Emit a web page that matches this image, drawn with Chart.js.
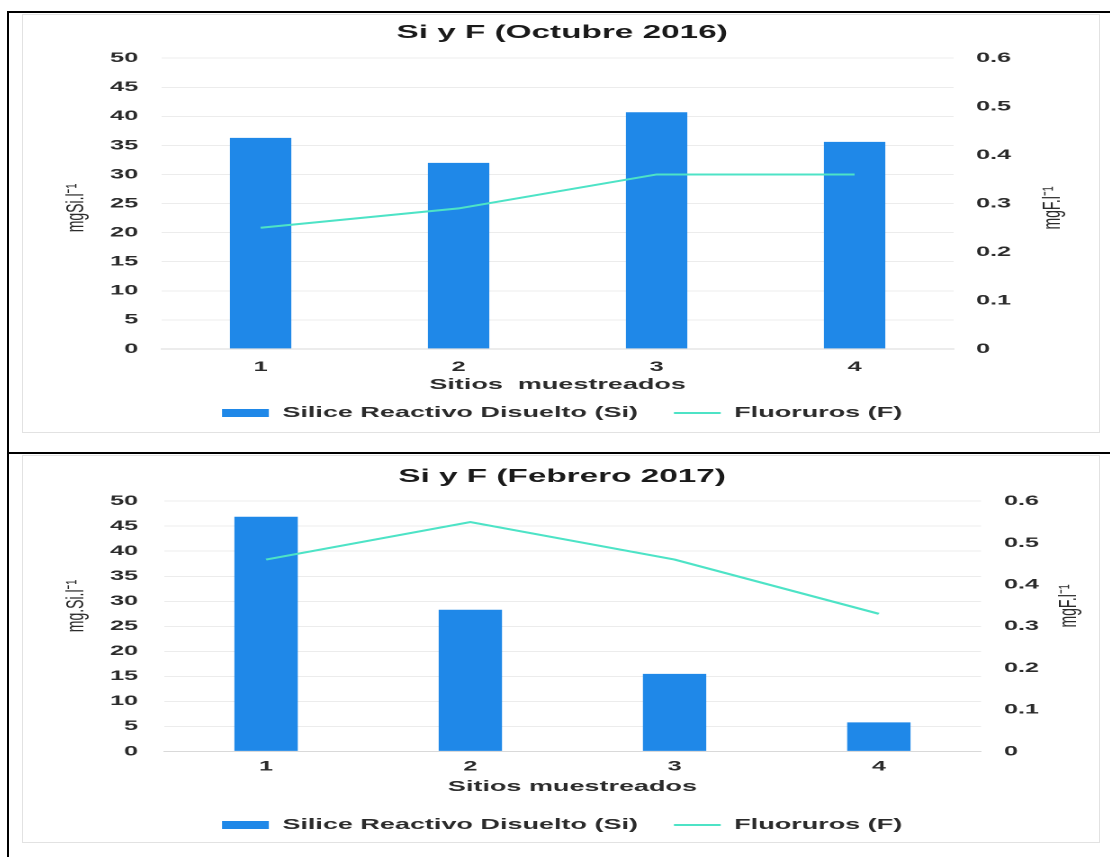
<!DOCTYPE html>
<html>
<head>
<meta charset="utf-8">
<script src="https://cdn.jsdelivr.net/npm/chart.js@4.4.1/dist/chart.umd.min.js"></script>
<style>
    body {
        margin: 0;
        width: 1110px;
        height: 857px;
        background: #fff;
        position: relative;
        overflow: hidden;
        font-family: "Liberation Sans", Arial, sans-serif;
    }
    .rule { position: absolute; background: #000; }
    .panel {
        position: absolute;
        left: 22px;
        width: 1078px;
        box-sizing: border-box;
        border: 1px solid #e2e2e2;
        overflow: hidden;
    }
    /* the source picture is stretched sideways, so the chart is too */
    .stretch {
        position: absolute;
        left: 0;
        top: 0;
        transform: scaleX(1.8);
        transform-origin: 0 0;
    }
</style>
</head>
<body>

<div class="rule" style="left:7px;top:11px;width:2px;height:846px"></div>
<div class="rule" style="left:7px;top:11px;width:1103px;height:2px"></div>
<div class="rule" style="left:7px;top:452px;width:1103px;height:2px"></div>

<div class="panel" style="top:14px;height:419px">
    <div class="stretch"><canvas id="chartOct" width="599" height="419"></canvas></div>
</div>

<div class="panel" style="top:455px;height:388px">
    <div class="stretch"><canvas id="chartFeb" width="599" height="388"></canvas></div>
</div>

<script>

// Data

const sitios = ["1", "2", "3", "4"];

const siOct2016 = [36.3, 32.0, 40.7, 35.6];
const fOct2016 = [0.25, 0.29, 0.36, 0.36];

const siFeb2017 = [46.9, 28.3, 15.5, 5.8];
const fFeb2017 = [0.46, 0.55, 0.46, 0.33];

const siAxisMax = 50;
const siAxisStep = 5;
const fAxisMax = 0.6;
const fAxisStep = 0.1;

const serieSi = "Silice Reactivo Disuelto (Si)";
const serieF = "Fluoruros (F)";


const FONT = "'Liberation Sans', Arial, sans-serif";
const TEXT = "#2b2b2b";


// Rotated y axis titles (both read bottom to top)

const axisTitles = {

    id: "axisTitles",

    afterDraw(chart, args, opts) {

        const ctx = chart.ctx;

        ctx.save();
        ctx.font = "14px " + FONT;
        ctx.fillStyle = TEXT;
        ctx.textAlign = "center";
        ctx.textBaseline = "middle";

        [[opts.leftX, opts.leftText], [opts.rightX, opts.rightText]].forEach(([x, text]) => {
            ctx.save();
            ctx.translate(x, opts.y);
            ctx.rotate(-Math.PI / 2);
            ctx.fillText(text, 0, 0);
            ctx.restore();
        });

        ctx.restore();
    }
};


function makeChart(id, cfg) {

    const ctx = document.getElementById(id).getContext("2d");

    return new Chart(ctx, {

        type: "bar",

        data: {
            labels: sitios,
            datasets: [{
                label: serieSi,
                data: cfg.si,
                backgroundColor: "#1f88e8",
                borderWidth: 0,
                barPercentage: 0.31,
                categoryPercentage: 1,
                yAxisID: "y",
                order: 1,
                pointStyle: "rect"
            }, {
                type: "line",
                label: serieF,
                data: cfg.f,
                borderColor: "#4de3c6",
                backgroundColor: "#4de3c6",
                borderWidth: 2,
                pointRadius: 0,
                tension: 0,
                yAxisID: "y1",
                order: 0,
                pointStyle: "line"
            }]
        },

        options: {

            responsive: false,
            animation: false,
            devicePixelRatio: 2,

            layout: {
                padding: { left: 0, right: 0, top: 0, bottom: cfg.padBottom }
            },

            scales: {

                x: {
                    grid: { display: false, drawTicks: false },
                    border: { color: "#d9d9d9" },
                    ticks: {
                        padding: cfg.xTickPad,
                        color: TEXT,
                        font: { family: FONT, size: 14, weight: "bold" }
                    },
                    title: {
                        display: true,
                        text: cfg.xTitle,
                        color: TEXT,
                        padding: { top: cfg.xTitlePadTop, bottom: cfg.xTitlePadBottom },
                        font: { family: FONT, size: 15, weight: "bold" }
                    }
                },

                y: {
                    position: "left",
                    min: 0,
                    max: siAxisMax,
                    grid: { color: "#ececec", drawTicks: false },
                    border: { display: false },
                    ticks: {
                        stepSize: siAxisStep,
                        padding: cfg.leftPad,
                        color: TEXT,
                        font: { family: FONT, size: 14, weight: "bold" }
                    },
                    afterFit(scale) { scale.width = cfg.leftWidth; }
                },

                y1: {
                    position: "right",
                    min: 0,
                    max: fAxisMax,
                    grid: { drawOnChartArea: false, drawTicks: false },
                    border: { display: false },
                    ticks: {
                        stepSize: fAxisStep,
                        padding: cfg.rightPad,
                        color: TEXT,
                        font: { family: FONT, size: 14, weight: "bold" }
                    },
                    afterFit(scale) { scale.width = cfg.rightWidth; }
                }
            },

            plugins: {

                title: {
                    display: true,
                    text: cfg.title,
                    color: "#1a1a1a",
                    padding: { top: cfg.titlePadTop, bottom: cfg.titlePadBottom },
                    font: { family: FONT, size: 18.5, weight: "bold" }
                },

                legend: {
                    position: "bottom",
                    labels: {
                        usePointStyle: true,
                        pointStyleWidth: 26,
                        boxWidth: 26,
                        boxHeight: 8,
                        padding: 20,
                        color: TEXT,
                        font: { family: FONT, size: 15, weight: "bold" },
                        sort: (a, b) => a.datasetIndex - b.datasetIndex
                    }
                },

                tooltip: { enabled: false },

                axisTitles: {
                    leftText: cfg.leftTitle,
                    rightText: cfg.rightTitle,
                    leftX: 29.5,
                    rightX: cfg.rightTitleX,
                    y: cfg.titleY
                }
            }
        },

        plugins: [axisTitles]
    });
}


// Octubre 2016

makeChart("chartOct", {
    title: "Si y F (Octubre 2016)",
    si: siOct2016,
    f: fOct2016,
    xTitle: "Sitios  muestreados",
    leftTitle: "mgSi.l\u207B\u00B9",
    rightTitle: "mgF.l\u207B\u00B9",
    leftWidth: 77,
    rightWidth: 82,
    leftPad: 13,
    rightPad: 12.5,
    rightTitleX: 572,
    titleY: 193,
    titlePadTop: 7,
    titlePadBottom: 14,
    xTickPad: 9.6,
    xTitlePadTop: -8.9,
    xTitlePadBottom: -8.5,
    padBottom: 3.5
});


// Febrero 2017

makeChart("chartFeb", {
    title: "Si y F (Febrero 2017)",
    si: siFeb2017,
    f: fFeb2017,
    xTitle: "Sitios muestreados",
    leftTitle: "mg.Si.l\u207B\u00B9",
    rightTitle: "mgF.l\u207B\u00B9",
    leftWidth: 78.3,
    rightWidth: 66.8,
    leftPad: 14.4,
    rightPad: 12.8,
    rightTitleX: 581,
    titleY: 150,
    titlePadTop: 10,
    titlePadBottom: 13,
    xTickPad: 6.6,
    xTitlePadTop: -3.4,
    xTitlePadBottom: 1.5,
    padBottom: 1.5
});

</script>
</body>
</html>
